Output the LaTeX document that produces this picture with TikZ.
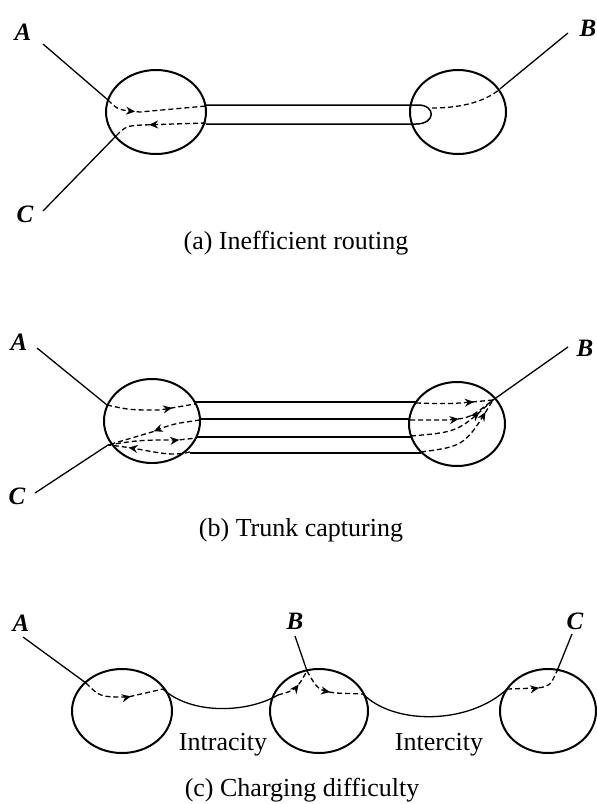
\documentclass[tikz,border=0pt]{standalone}
\usepackage{fontspec}
\setmainfont{Liberation Serif}
\usetikzlibrary{shapes.geometric,arrows.meta,decorations.markings}
\begin{document}
\begin{tikzpicture}[x=1pt,y=-1pt,
  city/.style={draw, ellipse, line width=2pt, inner sep=0pt, minimum width=#1, minimum height=84pt},
  route/.style={line width=1.3pt},
  trunk/.style={line width=1.5pt},
  droute/.style={line width=1.3pt, dash pattern=on 5pt off 3pt},
  midarrow/.style={postaction={decorate}, decoration={markings, mark=at position #1 with {\arrow{Stealth[length=9pt,width=8pt]}}}},
  lbl/.style={inner sep=0pt, font=\fontsize{25}{25}\selectfont\bfseries\itshape},
  captxt/.style={inner sep=0pt, font=\fontsize{26}{28}\selectfont},
]
\useasboundingbox (0,0) rectangle (597,804);

% ---------- (a) ----------
\node[city=100pt] (a1) at (156,112) {};
\node[city=96pt] (a2) at (458,112) {};
\node[lbl] (aAl) at (23,32) {A};
\node[lbl] (aBl) at (588,28) {B};
\node[lbl] (aCl) at (25,214) {C};
\coordinate (aA) at (43,44);
\coordinate (aAin) at (108,100);
\coordinate (aC) at (43,211);
\coordinate (aCin) at (115,137);
\coordinate (aB) at (568,33);
\coordinate (aBin) at (501,88);
\draw[route] (aA) -- (aAin);
\draw[route] (aC) -- (aCin);
\draw[route] (aB) -- (aBin);
\draw[trunk] (205,105) -- (418,105) .. controls (436,105) and (436,124) .. (416,124) -- (206,124);
\draw[droute, midarrow=0.3] (aAin) .. controls (118,110) .. (140,112) -- (206,106);
\draw[droute, midarrow=0.6] (206,123) -- (142,125) .. controls (126,126) .. (aCin);
\draw[droute] (432,108) .. controls (465,108) and (488,100) .. (aBin);
\node[captxt] (capa) at (296,243) {(a) Inefficient routing};

% ---------- (b) ----------
\node[city=96pt] (b1) at (152,421) {};
\node[city=96pt] (b2) at (457,424) {};
\node[lbl] (bAl) at (19,342) {A};
\node[lbl] (bBl) at (585,348) {B};
\node[lbl] (bCl) at (17,496) {C};
\coordinate (bA) at (37,348);
\coordinate (bAin) at (107,405);
\coordinate (bC) at (35,493);
\coordinate (bCin) at (108,445);
\coordinate (bB) at (568,347);
\coordinate (bBin) at (493,400);
\draw[route] (bA) -- (bAin);
\draw[route] (bC) -- (bCin);
\draw[route] (bB) -- (bBin);
\draw[trunk] (195,402) -- (416,402);
\draw[trunk] (200,419) -- (410,419);
\draw[trunk] (197,437) -- (411,437);
\draw[trunk] (190,453) -- (421,453);
\draw[droute, midarrow=0.74] (bAin) .. controls (130,410) .. (160,410) -- (195,404);
\draw[droute, midarrow=0.5] (200,420) .. controls (172,424) .. (152,432) -- (bCin);
\draw[droute, midarrow=0.8] (bCin) .. controls (140,440) .. (178,440) -- (197,438);
\draw[droute, midarrow=0.75] (190,452) .. controls (166,458) and (150,449) .. (bCin);
\draw[droute, midarrow=0.75] (416,403) .. controls (452,404) .. (bBin);
\draw[droute, midarrow=0.55] (410,420) -- (448,420) .. controls (470,418) .. (bBin);
\draw[droute, midarrow=0.8] (411,436) .. controls (458,432) .. (bBin);
\draw[droute, midarrow=0.85] (421,452) .. controls (465,446) .. (bBin);
\node[captxt] (capb) at (301,530) {(b) Trunk capturing};

% ---------- (c) ----------
\node[city=100pt] (c1) at (122,711) {};
\node[city=98pt] (c2) at (319,711) {};
\node[city=96pt] (c3) at (548,711) {};
\node[lbl] (cAl) at (21,623) {A};
\node[lbl] (cBl) at (295,621) {B};
\node[lbl] (cCl) at (575,621) {C};
\coordinate (cA) at (23,637);
\coordinate (cAin) at (86,683);
\coordinate (cB) at (295,636);
\coordinate (cBin) at (307,671);
\coordinate (cC) at (572,634);
\coordinate (cCin) at (557,671);
\coordinate (w1s) at (163,689);
\coordinate (w1e) at (278,695);
\coordinate (w2s) at (363,694);
\coordinate (w2e) at (507,689);
\draw[route] (cA) -- (cAin);
\draw[route] (cB) -- (cBin);
\draw[route] (cC) -- (cCin);
\draw[route] (w1s) .. controls (190,714) and (245,714) .. (w1e);
\draw[route] (w2s) .. controls (395,726) and (470,724) .. (w2e);
\draw[droute, midarrow=0.6] (cAin) .. controls (100,697) .. (128,697) -- (w1s);
\draw[droute, midarrow=0.6] (w1e) .. controls (296,690) .. (cBin);
\draw[droute, midarrow=0.5] (cBin) .. controls (318,690) .. (335,693) -- (w2s);
\draw[droute, midarrow=0.55] (w2e) -- (538,688) .. controls (550,686) .. (cCin);
\node[captxt] (intra) at (223,745) {Intracity};
\node[captxt] (inter) at (439,745) {Intercity};
\node[captxt] (capc) at (302,790) {(c) Charging difficulty};
\end{tikzpicture}
\end{document}
